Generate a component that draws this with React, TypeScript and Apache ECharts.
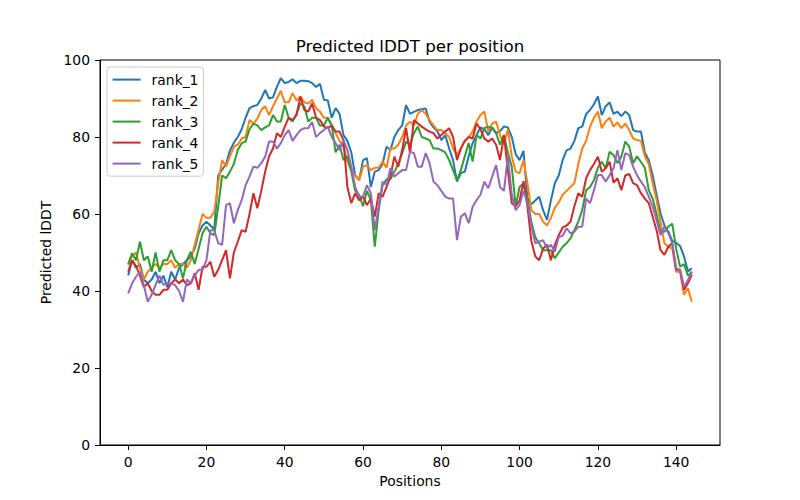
import React, { useEffect, useRef } from "react";
import * as echarts from "echarts";

const FONT = "DejaVu Sans";

const xTicks = [0, 20, 40, 60, 80, 100, 120, 140];
const seriesNames = ["rank_1", "rank_2", "rank_3", "rank_4", "rank_5"];
const colors = ["#1f77b4", "#ff7f0e", "#2ca02c", "#d62728", "#9467bd"];

const rank1 = [
  44, 48, 46, 47, 43, 42, 43, 45, 42, 44,
  41, 45, 43, 46, 47, 48, 49, 51, 55, 57,
  58, 57, 56, 70, 71.5, 73, 76.5, 78.5, 80, 82,
  85, 87.5, 88, 88.3, 90, 92.2, 90, 90.3, 93, 95.3,
  94, 94.3, 95, 94, 94.6, 94.6, 94.5, 94, 93, 93.8,
  89.7, 89.5, 85, 87.5, 86, 80.5, 79, 76, 70, 68.8,
  74, 74.5, 67, 71, 71.4, 73, 77.5, 76.6, 80, 81.8,
  83, 88.3, 86, 86.5, 87, 87.2, 87.4, 84, 82.5, 81.5,
  79.2, 80.5, 77, 74, 68.4, 70.6, 71, 75, 78.4, 80.5,
  82.5, 82, 80.5, 82.5, 81, 81.5, 82.7, 82.5, 80, 75.5,
  74, 76.4, 64, 62.5, 63.5, 64.5, 61, 58.5, 63.5, 68,
  70, 74, 76.5, 77, 79, 82.3, 82.7, 86, 87, 88.5,
  90.5, 85.7, 88, 89, 86, 86.6, 85.4, 86.6, 85.7, 81.8,
  81.4, 81.4, 76, 74, 70, 65, 60.2, 57, 55.4, 53,
  52.5, 51.7, 49, 45.1, 45.9,
];

const rank2 = [
  46.8, 49, 50, 46, 43, 45, 46, 47, 46, 47,
  47, 48, 46, 47, 47, 46, 48, 52, 56, 60,
  59, 59, 60.6, 68, 74, 72.3, 75, 77.5, 78, 79.6,
  80, 84.4, 83.5, 84.8, 87, 88, 85.7, 88, 90, 92,
  89, 89, 91.4, 89.5, 90.5, 89, 88.7, 89.6, 87.5, 86.6,
  85, 85, 83, 81, 79, 77.5, 73.6, 71.4, 70, 68.8,
  72.3, 72.7, 71.4, 72, 72, 73.6, 72, 77, 77, 78,
  80, 83, 84, 83, 86, 87, 86, 84.4, 83, 81.8,
  81.8, 81, 80, 77, 75.3, 77, 79, 80, 81.4, 84,
  85.7, 86.6, 81.4, 83.5, 84, 80.5, 78, 82, 75, 71,
  70.6, 74, 68, 61, 60, 60, 58, 57, 59, 61.6,
  63, 65, 66, 67, 68, 73, 77, 79, 82.7, 85,
  86.6, 82.3, 84, 85, 82.7, 83.8, 82.3, 83.5, 81.8, 79.6,
  79.2, 79, 75, 73, 68, 63.6, 58, 52.4, 51.5, 51,
  45, 45, 39, 40.7, 37.2,
];

const rank3 = [
  47, 49.8, 48, 52.8, 48, 49, 45, 50, 45, 48,
  48, 50.6, 48, 47, 43.3, 48, 50.2, 47, 51, 55,
  56.7, 55, 54.5, 62, 70, 69.3, 71, 73, 76.6, 78.4,
  78.8, 82, 83.5, 83, 81.8, 82.5, 83, 85.7, 84, 84,
  88.3, 85, 84, 86, 88.7, 88, 84, 85, 85, 83,
  83, 85, 83, 76, 78, 74, 75, 71, 66, 65,
  62, 66, 63.6, 51.5, 61, 67.5, 69, 69, 71, 73,
  75.8, 78.8, 78, 81, 82.7, 80, 79.6, 79.2, 77, 77,
  76.6, 76, 74, 71.4, 68.8, 71.4, 75, 78.4, 73.6, 80.5,
  79.6, 82.3, 82.7, 82.3, 81, 78, 80.5, 76, 72.3, 62,
  67, 68, 64, 58, 54, 52.4, 50.6, 50.6, 50.6, 48.5,
  50, 51.5, 52.4, 53.7, 55.8, 58, 61, 66.2, 67, 68.8,
  72, 73.6, 71.9, 76.2, 75.3, 73.2, 74.9, 78.8, 77.5, 73.2,
  75, 73.5, 72, 66.2, 64, 60, 55.4, 55.4, 56.7, 57.5,
  51, 46.3, 47, 44, 45,
];

const rank4 = [
  45, 48, 46.5, 44, 41, 42, 40, 39, 39, 40.3,
  40.3, 42, 43, 42, 43, 41.5, 42, 44.6, 40.3, 46.3,
  46.3, 47.6, 43.7, 45.5, 48, 50.6, 43.3, 50, 52.8, 55.8,
  55.4, 60, 65.4, 61.5, 66, 71, 75, 77, 81, 80,
  82.7, 85, 84.4, 85.7, 90.5, 87, 86.6, 88.7, 85, 84.4,
  82.7, 82.3, 83, 81.4, 81.4, 79.2, 67, 62.8, 65.4, 63.6,
  64.5, 62.3, 64, 59.3, 65.4, 64.5, 67, 69.7, 74.9, 72.3,
  76.6, 82.3, 75.8, 84.4, 83.5, 82.7, 82, 81.4, 81, 79.6,
  80.5, 81.4, 82.3, 80, 74, 77, 79, 80, 79.6, 83.5,
  82, 79.6, 78.8, 79.6, 78, 74, 80.5, 71.4, 62.8, 62,
  63.5, 68.5, 62, 53, 49, 48, 51, 52, 48, 52,
  54.5, 56.5, 57, 58, 62, 65.4, 64.5, 69.3, 71.4, 73,
  74.9, 71, 71.9, 73.6, 68.1, 69.3, 66.2, 70, 70.4, 68,
  67.5, 65.4, 64, 62.8, 59.3, 55.8, 50.6, 49.4, 51.5, 52.4,
  45.5, 45.5, 40.3, 42, 44.2,
];

const rank5 = [
  39.4, 42, 43.7, 45, 41.5, 37.2, 39, 41.6, 44, 41.6,
  42, 42, 41.5, 40, 37.2, 43, 42, 44, 45.5, 45.5,
  48, 55.8, 55.8, 52.4, 52, 62.3, 62.8, 57.6, 61, 63.6,
  67.5, 69.7, 72.3, 72, 73.2, 74.9, 78.8, 78.8, 77, 78.4,
  80.5, 81.8, 79, 80.5, 81.8, 82.3, 82.3, 83.9, 80, 81,
  81.8, 82.7, 80, 78.4, 76.6, 79.2, 76.6, 72.3, 67, 64.5,
  64.5, 67.5, 65.4, 55.8, 61.9, 68.4, 67.5, 71.9, 69.7, 70.6,
  71.4, 71.4, 76.2, 75.8, 72.3, 72.3, 75.8, 73.2, 68.4, 67.5,
  66, 64.5, 64, 64, 53.2, 59.3, 60.2, 57.6, 61.9, 63.6,
  65, 68.4, 66.7, 69.7, 72.7, 67, 66, 75, 65, 61,
  62.3, 66, 63, 57, 52.4, 52.8, 53.2, 51.1, 52, 50.2,
  54, 54.4, 56.3, 55, 55.4, 56.7, 56.7, 64, 62.8, 66.2,
  70.1, 70.1, 68.4, 70.1, 71.9, 76.6, 71.4, 75.8, 75.3, 72.3,
  70.1, 68.4, 67, 64.5, 61.9, 58.4, 54.5, 56.7, 55, 52.4,
  45.9, 45.5, 41.1, 42.8, 45,
];

const allSeries = [rank1, rank2, rank3, rank4, rank5];
const positions = rank1.map((_, i) => i);

export default function App() {
  const ref = useRef<HTMLDivElement>(null);

  useEffect(() => {
    if (!ref.current) return;
    const chart = echarts.init(ref.current, undefined, { renderer: "svg" });
    const textBase = { fontFamily: FONT, color: "#000", fontSize: 13.9 };
    chart.setOption({
      animation: false,
      backgroundColor: "#fff",
      grid: {
        left: 100,
        right: 80,
        top: 60,
        bottom: 55,
        show: true,
        borderColor: "#000",
        borderWidth: 1,
        backgroundColor: "transparent",
      },
      graphic: [
        {
          type: "text",
          x: 410,
          y: 46,
          style: {
            text: "Predicted lDDT per position",
            textAlign: "center",
            textVerticalAlign: "middle",
            fontFamily: FONT,
            fontSize: 16.7,
            fill: "#000",
          },
        },
      ],
      legend: {
        orient: "vertical",
        left: 107,
        top: 67,
        icon: "rect",
        itemWidth: 28,
        itemHeight: 2,
        itemGap: 7,
        padding: [5.6, 5, 5.6, 5.6],
        backgroundColor: "rgba(255,255,255,0.8)",
        borderColor: "#cccccc",
        borderWidth: 1,
        borderRadius: 3,
        data: seriesNames,
        textStyle: { ...textBase, lineHeight: 14, padding: [0, 0, 0, 6] },
      },
      xAxis: {
        type: "value",
        min: -7.2,
        max: 151.2,
        name: "Positions",
        nameLocation: "middle",
        nameGap: 28,
        nameTextStyle: textBase,
        axisLine: { show: true, onZero: false, lineStyle: { color: "#000", width: 1 } },
        axisTick: { show: true, length: 5, customValues: xTicks, lineStyle: { color: "#000" } },
        axisLabel: { ...textBase, margin: 10, customValues: xTicks },
        splitLine: { show: false },
      },
      yAxis: {
        type: "value",
        min: 0,
        max: 100,
        interval: 20,
        name: "Predicted lDDT",
        nameLocation: "middle",
        nameGap: 38,
        nameTextStyle: textBase,
        axisLine: { show: true, onZero: false, lineStyle: { color: "#000", width: 1 } },
        axisTick: { show: true, length: 5, lineStyle: { color: "#000" } },
        axisLabel: { ...textBase, margin: 10 },
        splitLine: { show: false },
      },
      series: allSeries.map((vals, k) => ({
        name: seriesNames[k],
        type: "line",
        data: positions.map((p, i) => [p, vals[i]]),
        showSymbol: false,
        symbol: "none",
        color: colors[k],
        lineStyle: { color: colors[k], width: 2 },
        z: 2 + k,
      })),
    });
    return () => chart.dispose();
  }, []);

  return (
    <div
      ref={ref}
      style={{ position: "absolute", left: 0, top: 0, width: 800, height: 500 }}
    />
  );
}
